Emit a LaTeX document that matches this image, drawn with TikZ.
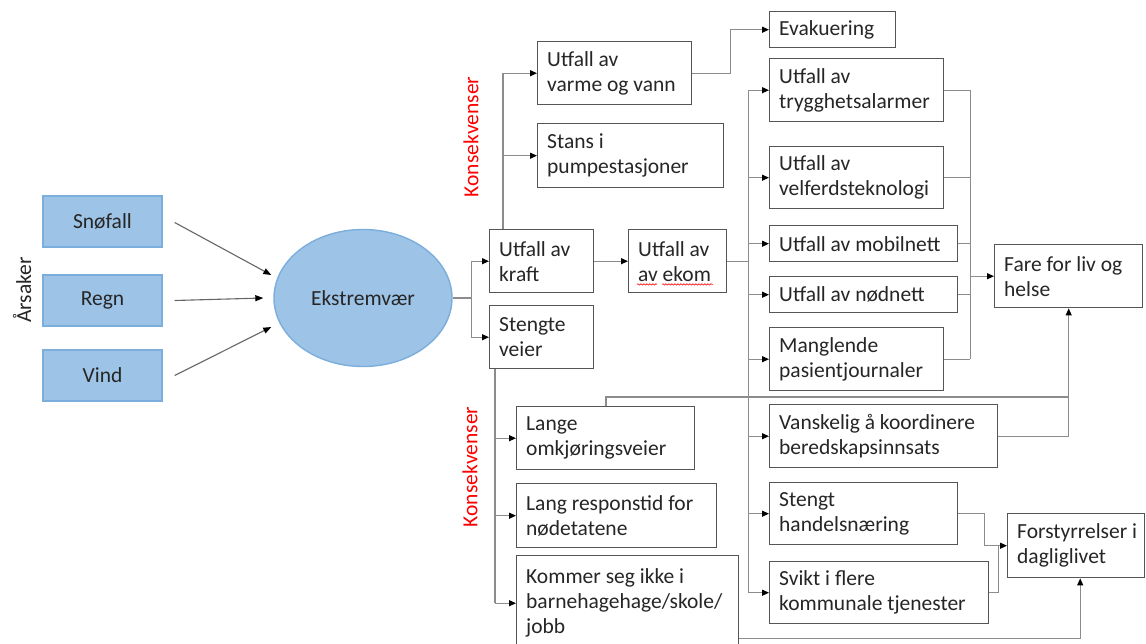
\documentclass[tikz,border=0pt]{standalone}
\usepackage{fontspec}
\setmainfont{Carlito}
\usetikzlibrary{arrows.meta,shapes.geometric,decorations.pathmorphing,calc}
\definecolor{boxc}{HTML}{555555}
\definecolor{txtc}{HTML}{262626}
\definecolor{linec}{HTML}{8C8C8C}
\definecolor{bluef}{HTML}{9DC3E6}
\definecolor{bluee}{HTML}{7BAEDC}
\definecolor{konsred}{HTML}{FF0000}
\newcommand\mybox[6]{%
  \pgfmathsetmacro\mybw{#4-#2}\pgfmathsetmacro\mybh{#5-#3}%
  \node[box, minimum width=\mybw pt, minimum height=\mybh pt, anchor=north west] (#1) at (#2,#3) {};%
  \node[boxtext, anchor=west] (#1-t) at ([xshift=10pt]#1.west) {#6};}
\begin{document}
\begin{tikzpicture}[x=1pt,y=-1pt,
  mainfont/.style={font=\fontsize{21.5}{25}\selectfont},
  box/.style={draw=boxc, line width=1.4pt, fill=white, inner sep=0pt},
  boxtext/.style={mainfont, text=txtc, align=left, inner sep=0pt},
  bluebox/.style={draw=bluee, fill=bluef, line width=1.4pt, mainfont, text=txtc, minimum width=119pt, minimum height=51pt, inner sep=0pt},
  conn/.style={draw=linec, line width=1.1pt},
  arr/.style={conn, -{Triangle[length=7pt,width=6pt,color=black,fill=black]}},
  larr/.style={draw=black!60, line width=1.1pt, -{Triangle[length=8pt,width=6pt,color=black,fill=black]}},
  kons/.style={mainfont, text=konsred, rotate=90, inner sep=0pt}]
\useasboundingbox (0,0) rectangle (1146,643);
\fill[white] (0,0) rectangle (1146,643);

% causes
\node[mainfont, text=txtc, rotate=90, inner sep=0pt] (ars) at (22,290) {Årsaker};
\node[bluebox] (sn) at (102.5,221.5) {Snøfall};
\node[bluebox] (rg) at (102.5,300.5) {Regn};
\node[bluebox] (vi) at (102.5,375.5) {Vind};
\node[ellipse, draw=bluee, fill=bluef, line width=1.4pt, minimum width=178pt, minimum height=137pt, inner sep=0pt, mainfont, text=txtc] (ell) at (363,298) {Ekstremvær};

\draw[larr] ($(sn.east)+(12,1)$) -- ($(ell.west)+(-2,-23)$);
\draw[larr] ($(rg.east)+(12,0)$) -- ($(ell.west)+(-10,0)$);
\draw[larr] ($(vi.east)+(12,0)$) -- ($(ell.west)+(-2,29)$);

% labels
\node[kons] (k1) at (471,137) {Konsekvenser};
\node[kons] (k2) at (470,467) {Konsekvenser};

% boxes
\mybox{varme}{537}{41}{691}{104}{Utfall av\\varme og vann}
\mybox{stans}{537}{123}{723}{187}{Stans i\\pumpestasjoner}
\mybox{kraft}{489}{229}{593}{292}{Utfall av\\kraft}
\mybox{ekom}{628}{229}{726}{292}{Utfall av\\av ekom}
\mybox{veier}{489}{305}{593}{368}{Stengte\\veier}
\mybox{evak}{769}{11}{895}{47}{Evakuering}
\mybox{tryg}{769}{58}{943}{121}{Utfall av\\trygghetsalarmer}
\mybox{velf}{769}{146}{943}{208}{Utfall av\\velferdsteknologi}
\mybox{mobil}{769}{225}{957}{261}{Utfall av mobilnett}
\mybox{nod}{769}{276}{957}{312}{Utfall av nødnett}
\mybox{mangl}{769}{327}{943}{390}{Manglende\\pasientjournaler}
\mybox{vansk}{769}{404}{997}{467}{Vanskelig å koordinere\\beredskapsinnsats}
\mybox{handel}{769}{482}{957}{544}{Stengt\\handelsnæring}
\mybox{svikt}{769}{561}{988}{623}{Svikt i flere\\kommunale tjenester}
\mybox{fare}{994}{244}{1142}{307}{Fare for liv og\\helse}
\mybox{forst}{1007}{513}{1144}{577}{Forstyrrelser i\\dagliglivet}
\mybox{lange}{516}{406}{694}{469}{Lange\\omkjøringsveier}
\mybox{lang}{516}{483}{716}{547}{Lang responstid for\\nødetatene}
\mybox{kommer}{516}{555}{738}{650}{Kommer seg ikke i\\barnehagehage/skole/\\jobb}

% spell-check underline
\draw[konsred, line width=0.6pt, decorate, decoration={snake, amplitude=0.7pt, segment length=3pt}] ($(ekom.south west)+(9,-9)$) -- ($(ekom.south west)+(29,-9)$);
\draw[konsred, line width=0.6pt, decorate, decoration={snake, amplitude=0.7pt, segment length=3pt}] ($(ekom.south west)+(34,-9)$) -- ($(ekom.south west)+(85,-9)$);

% connectors from Ekstremvaer
\coordinate (b1) at ($(ell.east)+(19,0)$);
\draw[conn] (ell.east) -- (b1);
\draw[arr] (b1) |- (kraft.west);
\draw[arr] (b1) |- (veier.west);

% kraft
\coordinate (kt) at ($(kraft.north west)+(14,0)$);
\draw[arr] (kt) |- (varme.west);
\draw[arr] (kt |- stans.west) -- (stans.west);
\draw[arr] (kraft.east) -- (ekom.west);
\draw[arr] (varme.east) -- ++(38,0) |- (evak.west);

% ekom bus
\coordinate (bus) at ($(ekom.east)+(21,0)$);
\draw[conn] (ekom.east) -- (bus);
\draw[conn] (bus |- tryg.west) -- (bus |- svikt.west);
\foreach \n in {tryg,velf,mobil,nod,mangl,vansk,handel,svikt}
  \draw[arr] (bus |- \n.west) -- (\n.west);

% right bus to Fare
\coordinate (rb) at ($(tryg.east)+(26,0)$);
\foreach \n in {tryg,velf,mobil,nod,mangl}
  \draw[conn] (\n.east) -- (rb |- \n.east);
\draw[conn] (rb |- tryg.east) -- (rb |- mangl.east);
\draw[arr] (rb |- fare.west) -- (fare.west);
\draw[arr] (vansk.east) -| (fare.south);
\coordinate (lt) at ($(lange.north west)+(90,0)$);
\coordinate (ly) at ($(lange.north)+(0,-9)$);
\draw[conn] (lt) |- (fare.south |- ly);

% Stengte veier bus
\coordinate (v0) at ($(veier.south west)+(6,0)$);
\draw[conn] (v0) -- (v0 |- kommer.west);
\foreach \n in {lange,lang,kommer}
  \draw[arr] (v0 |- \n.west) -- (\n.west);

% to Forstyrrelser
\draw[arr] (handel.east) -- ++(26,0) |- (forst.west);
\draw[conn] (svikt.east) -- ++(9,0) -- ++(0,-47);
\coordinate (ke) at ($(kommer.south east)+(0,-13)$);
\draw[arr] (ke) -| ($(forst.south)+(4,0)$);
\end{tikzpicture}
\end{document}
